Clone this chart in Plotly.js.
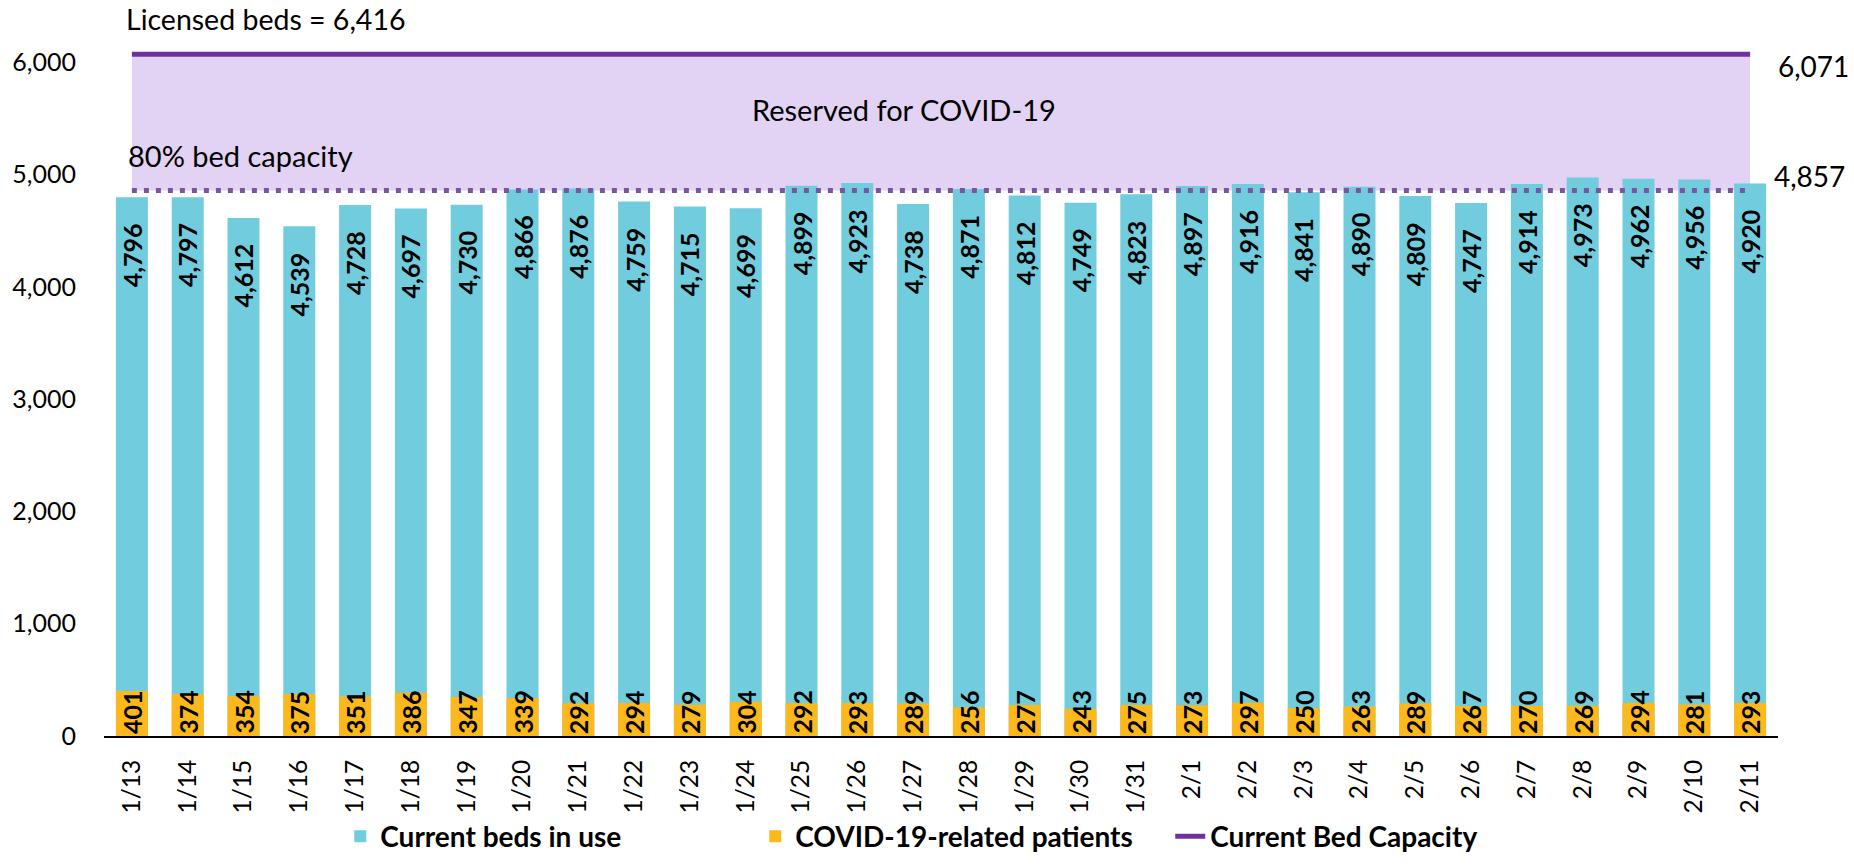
<!DOCTYPE html>
<html>
<head>
<meta charset="utf-8">
<script src="https://cdn.plot.ly/plotly-3.0.1.min.js"></script>
<style>html,body{margin:0;padding:0;background:#fff;}#chart{width:1854px;height:867px;}</style>
</head>
<body>
<div id="chart"></div>
<script>
const days = ["1/13","1/14","1/15","1/16","1/17","1/18","1/19","1/20","1/21","1/22","1/23","1/24","1/25","1/26","1/27","1/28","1/29","1/30","1/31","2/1","2/2","2/3","2/4","2/5","2/6","2/7","2/8","2/9","2/10","2/11"];
const bedsInUse = [4796,4797,4612,4539,4728,4697,4730,4866,4876,4759,4715,4699,4899,4923,4738,4871,4812,4749,4823,4897,4916,4841,4890,4809,4747,4914,4973,4962,4956,4920];
const covidPatients = [401,374,354,375,351,386,347,339,292,294,279,304,292,293,289,256,277,243,275,273,297,250,263,289,267,270,269,294,281,293];
const bedCapacity = 6071;
const capacity80 = 4857;
const licensedBeds = 6416;
const yTicks = [0,1000,2000,3000,4000,5000,6000];

const fmt = v => v.toLocaleString('en-US');
const capLine = days.map(() => bedCapacity);
const cap80Line = days.map(() => capacity80);

const FONT = "Lato, 'Open Sans', sans-serif";
const traces = [
  {type:'bar', x:days, y:bedsInUse, name:'Current beds in use', legendrank:1,
   marker:{color:'#71ccdd'}, width:0.573},
  {type:'bar', x:days, y:covidPatients, name:'COVID-19-related patients', legendrank:2,
   marker:{color:'#fdb81b'}, width:0.573},
  {type:'scatter', mode:'lines', x:days, y:cap80Line, showlegend:false, hoverinfo:'skip',
   line:{color:'#7a559f', width:5, dash:'5px,7px'}},
  {type:'scatter', mode:'lines', x:days, y:capLine, name:'Current Bed Capacity', legendrank:3,
   line:{color:'#7030a0', width:5}}
];

const annotations = [];
days.forEach((d,i) => {
  annotations.push({x:d, y:bedsInUse[i], xref:'x', yref:'y', text:fmt(bedsInUse[i]), showarrow:false,
    textangle:-90, yanchor:'top', xanchor:'center', yshift:-24,
    font:{family:FONT, size:25, color:'#000', weight:'bold'}});
  annotations.push({x:d, y:0, xref:'x', yref:'y', text:fmt(covidPatients[i]), showarrow:false,
    textangle:-90, yanchor:'bottom', xanchor:'center', yshift:0,
    font:{family:FONT, size:25, color:'#000', weight:'bold'}});
});
annotations.push({x:days[0], y:licensedBeds, xref:'x', yref:'y', text:'Licensed beds = ' + fmt(licensedBeds),
  showarrow:false, xanchor:'left', yanchor:'middle', xshift:-8, yshift:-4, font:{family:FONT, size:28.5, color:'#000'}});
annotations.push({x:days[0], y:capacity80, xref:'x', yref:'y', text:'80% bed capacity',
  showarrow:false, xanchor:'left', yanchor:'bottom', xshift:-6, yshift:16, font:{family:FONT, size:29, color:'#000'}});
annotations.push({x:0.478, y:(bedCapacity+capacity80)/2, xref:'paper', yref:'y', text:'Reserved for COVID-19',
  showarrow:false, xanchor:'center', yanchor:'middle', yshift:13, font:{family:FONT, size:29, color:'#000'}});
annotations.push({x:1, y:bedCapacity, xref:'paper', yref:'y', text:fmt(bedCapacity),
  showarrow:false, xanchor:'left', yanchor:'middle', xshift:-2, yshift:-12, font:{family:FONT, size:28, color:'#000'}});
annotations.push({x:1, y:capacity80, xref:'paper', yref:'y', text:fmt(capacity80),
  showarrow:false, xanchor:'left', yanchor:'middle', xshift:-6, yshift:15, font:{family:FONT, size:28, color:'#000'}});

const shapes = [
  {type:'rect', layer:'below', xref:'x', yref:'y', x0:days[0], x1:days[days.length-1],
   y0:capacity80, y1:bedCapacity, fillcolor:'#e2d2f3', line:{width:0}}
];

const layout = {
  width:1854, height:867,
  margin:{l:104, r:76, t:6, b:128},
  paper_bgcolor:'#fff', plot_bgcolor:'#fff',
  barmode:'overlay',
  showlegend:true,
  legend:{orientation:'h', x:0.513, xanchor:'center', y:-0.172, yanchor:'bottom',
    entrywidth:370, entrywidthmode:'pixels', borderwidth:0,
    font:{family:FONT, size:28, color:'#000', weight:'bold'}, itemclick:false, traceorder:'normal'},
  xaxis:{type:'category', tickangle:-90, showline:true, linecolor:'#000', linewidth:2,
    ticks:'', showgrid:false, zeroline:false, ticklabelstandoff:12,
    tickfont:{family:FONT, size:24.5, color:'#000'}},
  yaxis:{range:[0,6500], tickvals:yTicks, ticktext:yTicks.map(fmt), showgrid:false, zeroline:false,
    showline:false, ticks:'', ticklabelstandoff:27, tickfont:{family:FONT, size:25, color:'#000'}},
  annotations:annotations,
  shapes:shapes,
  font:{family:FONT}
};

Plotly.newPlot('chart', traces, layout, {displayModeBar:false, staticPlot:true});
</script>
</body>
</html>
